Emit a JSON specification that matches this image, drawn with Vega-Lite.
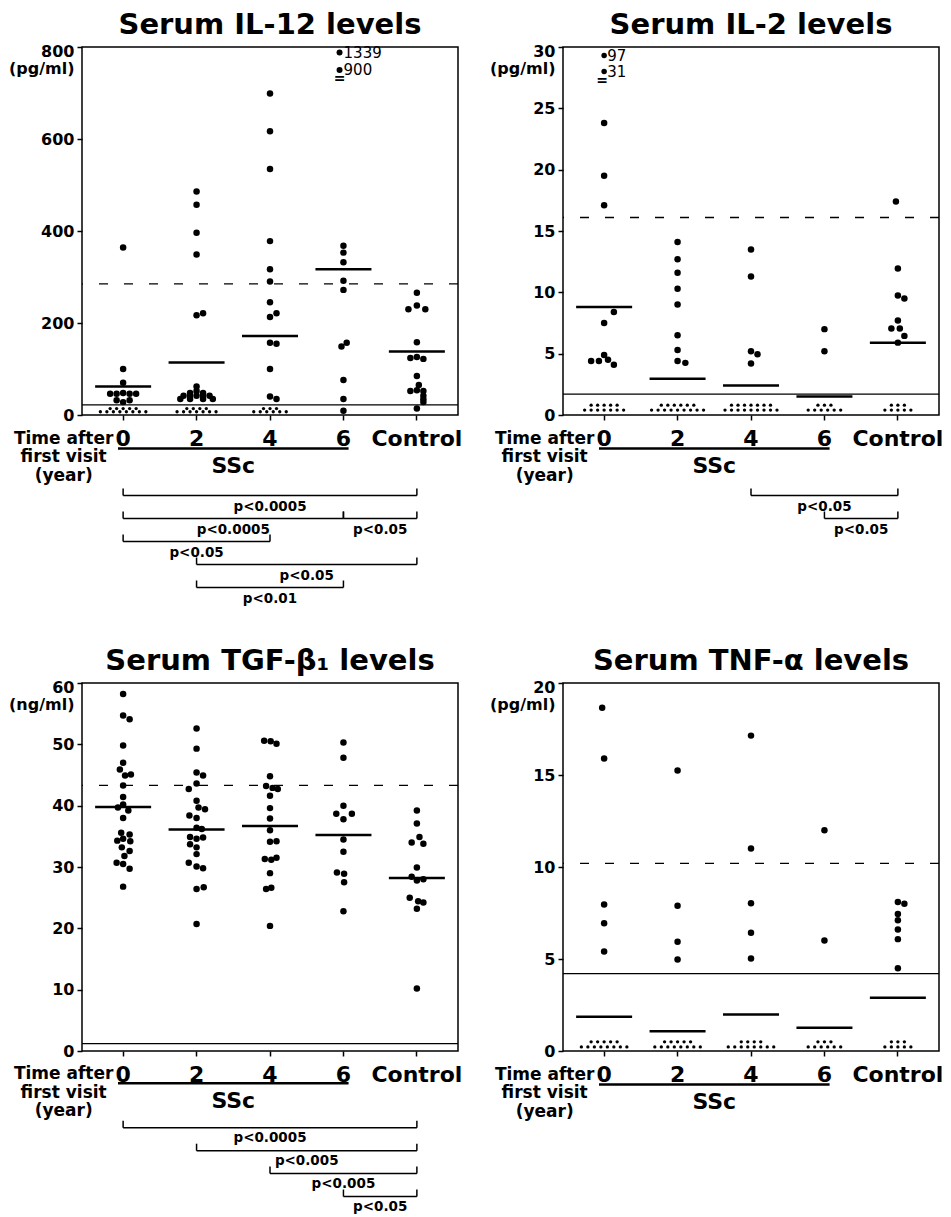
{
  "$schema": "https://vega.github.io/schema/vega-lite/v6.json",
  "background": "white",
  "padding": {"left": 7, "top": 10, "right": 5, "bottom": 2},
  "config": {
    "font": "DejaVu Sans",
    "view": {"stroke": "black", "strokeWidth": 1.5},
    "axis": {"labelFont": "DejaVu Sans", "labelFontWeight": "bold", "labelColor": "black", "tickColor": "black", "tickWidth": 1.5, "domainColor": "black", "grid": false},
    "axisX": {"labelAlign": "center"},
    "title": {"font": "DejaVu Sans", "fontWeight": "bold", "fontSize": 29, "color": "black", "anchor": "middle", "frame": "group", "offset": 3},
    "text": {"color": "black", "font": "DejaVu Sans"},
    "rule": {"color": "black"},
    "tick": {"color": "black", "opacity": 1},
    "circle": {"color": "black", "opacity": 1}
  },
  "datasets": {
    "il12": [
      {"group":"0","value":364,"col":0,"detected":"yes"},
      {"group":"0","value":100,"col":0,"detected":"yes"},
      {"group":"0","value":70,"col":0,"detected":"yes"},
      {"group":"0","value":46,"col":-2,"detected":"yes"},
      {"group":"0","value":46,"col":-1,"detected":"yes"},
      {"group":"0","value":48,"col":0,"detected":"yes"},
      {"group":"0","value":46,"col":1,"detected":"yes"},
      {"group":"0","value":46,"col":2,"detected":"yes"},
      {"group":"0","value":32,"col":-1,"detected":"yes"},
      {"group":"0","value":32,"col":1,"detected":"yes"},
      {"group":"0","value":28,"col":0,"detected":"yes"},
      {"group":"0","value":7,"col":-3.5,"detected":"no"},
      {"group":"0","value":7,"col":-2.5,"detected":"no"},
      {"group":"0","value":7,"col":-1.5,"detected":"no"},
      {"group":"0","value":7,"col":-0.5,"detected":"no"},
      {"group":"0","value":7,"col":0.5,"detected":"no"},
      {"group":"0","value":7,"col":1.5,"detected":"no"},
      {"group":"0","value":7,"col":2.5,"detected":"no"},
      {"group":"0","value":7,"col":3.5,"detected":"no"},
      {"group":"0","value":14,"col":-2,"detected":"no"},
      {"group":"0","value":14,"col":-1,"detected":"no"},
      {"group":"0","value":14,"col":0,"detected":"no"},
      {"group":"0","value":14,"col":1,"detected":"no"},
      {"group":"0","value":14,"col":2,"detected":"no"},
      {"group":"2","value":486,"col":0,"detected":"yes"},
      {"group":"2","value":457,"col":0,"detected":"yes"},
      {"group":"2","value":396,"col":0,"detected":"yes"},
      {"group":"2","value":349,"col":0,"detected":"yes"},
      {"group":"2","value":217,"col":0,"detected":"yes"},
      {"group":"2","value":221,"col":1,"detected":"yes"},
      {"group":"2","value":62,"col":0,"detected":"yes"},
      {"group":"2","value":52,"col":0,"detected":"yes"},
      {"group":"2","value":48,"col":-1,"detected":"yes"},
      {"group":"2","value":48,"col":1,"detected":"yes"},
      {"group":"2","value":42,"col":-2,"detected":"yes"},
      {"group":"2","value":42,"col":-1,"detected":"yes"},
      {"group":"2","value":42,"col":0,"detected":"yes"},
      {"group":"2","value":42,"col":1,"detected":"yes"},
      {"group":"2","value":42,"col":2,"detected":"yes"},
      {"group":"2","value":35,"col":-2.5,"detected":"yes"},
      {"group":"2","value":35,"col":-1,"detected":"yes"},
      {"group":"2","value":35,"col":1,"detected":"yes"},
      {"group":"2","value":35,"col":2.5,"detected":"yes"},
      {"group":"2","value":7,"col":-3,"detected":"no"},
      {"group":"2","value":7,"col":-2,"detected":"no"},
      {"group":"2","value":7,"col":-1,"detected":"no"},
      {"group":"2","value":7,"col":0,"detected":"no"},
      {"group":"2","value":7,"col":1,"detected":"no"},
      {"group":"2","value":7,"col":2,"detected":"no"},
      {"group":"2","value":7,"col":3,"detected":"no"},
      {"group":"2","value":14,"col":-1.5,"detected":"no"},
      {"group":"2","value":14,"col":-0.5,"detected":"no"},
      {"group":"2","value":14,"col":0.5,"detected":"no"},
      {"group":"2","value":14,"col":1.5,"detected":"no"},
      {"group":"4","value":699,"col":0,"detected":"yes"},
      {"group":"4","value":617,"col":0,"detected":"yes"},
      {"group":"4","value":535,"col":0,"detected":"yes"},
      {"group":"4","value":378,"col":0,"detected":"yes"},
      {"group":"4","value":317,"col":0,"detected":"yes"},
      {"group":"4","value":290,"col":0,"detected":"yes"},
      {"group":"4","value":245,"col":0,"detected":"yes"},
      {"group":"4","value":213,"col":0,"detected":"yes"},
      {"group":"4","value":221,"col":1,"detected":"yes"},
      {"group":"4","value":157,"col":0,"detected":"yes"},
      {"group":"4","value":155,"col":1,"detected":"yes"},
      {"group":"4","value":100,"col":0,"detected":"yes"},
      {"group":"4","value":40,"col":0,"detected":"yes"},
      {"group":"4","value":35,"col":1,"detected":"yes"},
      {"group":"4","value":7,"col":-2.5,"detected":"no"},
      {"group":"4","value":7,"col":-1.5,"detected":"no"},
      {"group":"4","value":7,"col":-0.5,"detected":"no"},
      {"group":"4","value":7,"col":0.5,"detected":"no"},
      {"group":"4","value":7,"col":1.5,"detected":"no"},
      {"group":"4","value":7,"col":2.5,"detected":"no"},
      {"group":"4","value":14,"col":-1,"detected":"no"},
      {"group":"4","value":14,"col":0,"detected":"no"},
      {"group":"4","value":14,"col":1,"detected":"no"},
      {"group":"6","value":368,"col":0,"detected":"yes"},
      {"group":"6","value":353,"col":0,"detected":"yes"},
      {"group":"6","value":332,"col":0,"detected":"yes"},
      {"group":"6","value":292,"col":0,"detected":"yes"},
      {"group":"6","value":272,"col":0,"detected":"yes"},
      {"group":"6","value":157,"col":0.5,"detected":"yes"},
      {"group":"6","value":149,"col":-0.3,"detected":"yes"},
      {"group":"6","value":76,"col":0,"detected":"yes"},
      {"group":"6","value":35,"col":0,"detected":"yes"},
      {"group":"6","value":9,"col":0,"detected":"yes"},
      {"group":"Control","value":266,"col":0,"detected":"yes"},
      {"group":"Control","value":238,"col":0,"detected":"yes"},
      {"group":"Control","value":230,"col":-1.3,"detected":"yes"},
      {"group":"Control","value":230,"col":1.3,"detected":"yes"},
      {"group":"Control","value":158,"col":0,"detected":"yes"},
      {"group":"Control","value":124,"col":-1,"detected":"yes"},
      {"group":"Control","value":126,"col":0,"detected":"yes"},
      {"group":"Control","value":122,"col":1,"detected":"yes"},
      {"group":"Control","value":85,"col":0,"detected":"yes"},
      {"group":"Control","value":65,"col":0.3,"detected":"yes"},
      {"group":"Control","value":52,"col":-1,"detected":"yes"},
      {"group":"Control","value":54,"col":0,"detected":"yes"},
      {"group":"Control","value":52,"col":1,"detected":"yes"},
      {"group":"Control","value":42,"col":1,"detected":"yes"},
      {"group":"Control","value":34,"col":1,"detected":"yes"},
      {"group":"Control","value":28,"col":1,"detected":"yes"},
      {"group":"Control","value":14,"col":0,"detected":"yes"}
    ],
    "il2": [
      {"group":"0","value":23.8,"col":0,"detected":"yes"},
      {"group":"0","value":19.5,"col":0,"detected":"yes"},
      {"group":"0","value":17.1,"col":0,"detected":"yes"},
      {"group":"0","value":8.4,"col":1.5,"detected":"yes"},
      {"group":"0","value":7.5,"col":0,"detected":"yes"},
      {"group":"0","value":4.9,"col":0,"detected":"yes"},
      {"group":"0","value":4.4,"col":-2,"detected":"yes"},
      {"group":"0","value":4.4,"col":-0.8,"detected":"yes"},
      {"group":"0","value":4.5,"col":0.6,"detected":"yes"},
      {"group":"0","value":4.1,"col":1.5,"detected":"yes"},
      {"group":"0","value":0.4,"col":-3,"detected":"no"},
      {"group":"0","value":0.4,"col":-2,"detected":"no"},
      {"group":"0","value":0.4,"col":-1,"detected":"no"},
      {"group":"0","value":0.4,"col":0,"detected":"no"},
      {"group":"0","value":0.4,"col":1,"detected":"no"},
      {"group":"0","value":0.4,"col":2,"detected":"no"},
      {"group":"0","value":0.4,"col":3,"detected":"no"},
      {"group":"0","value":0.8,"col":-2,"detected":"no"},
      {"group":"0","value":0.8,"col":-1,"detected":"no"},
      {"group":"0","value":0.8,"col":0,"detected":"no"},
      {"group":"0","value":0.8,"col":1,"detected":"no"},
      {"group":"0","value":0.8,"col":2,"detected":"no"},
      {"group":"2","value":14.1,"col":0,"detected":"yes"},
      {"group":"2","value":12.7,"col":0,"detected":"yes"},
      {"group":"2","value":11.6,"col":0,"detected":"yes"},
      {"group":"2","value":10.3,"col":0,"detected":"yes"},
      {"group":"2","value":9.0,"col":0,"detected":"yes"},
      {"group":"2","value":6.5,"col":0,"detected":"yes"},
      {"group":"2","value":5.3,"col":0,"detected":"yes"},
      {"group":"2","value":4.4,"col":0,"detected":"yes"},
      {"group":"2","value":4.25,"col":1.2,"detected":"yes"},
      {"group":"2","value":0.4,"col":-4,"detected":"no"},
      {"group":"2","value":0.4,"col":-3,"detected":"no"},
      {"group":"2","value":0.4,"col":-2,"detected":"no"},
      {"group":"2","value":0.4,"col":-1,"detected":"no"},
      {"group":"2","value":0.4,"col":0,"detected":"no"},
      {"group":"2","value":0.4,"col":1,"detected":"no"},
      {"group":"2","value":0.4,"col":2,"detected":"no"},
      {"group":"2","value":0.4,"col":3,"detected":"no"},
      {"group":"2","value":0.4,"col":4,"detected":"no"},
      {"group":"2","value":0.8,"col":-2.5,"detected":"no"},
      {"group":"2","value":0.8,"col":-1.5,"detected":"no"},
      {"group":"2","value":0.8,"col":-0.5,"detected":"no"},
      {"group":"2","value":0.8,"col":0.5,"detected":"no"},
      {"group":"2","value":0.8,"col":1.5,"detected":"no"},
      {"group":"2","value":0.8,"col":2.5,"detected":"no"},
      {"group":"4","value":13.5,"col":0,"detected":"yes"},
      {"group":"4","value":11.3,"col":0,"detected":"yes"},
      {"group":"4","value":5.2,"col":0,"detected":"yes"},
      {"group":"4","value":4.95,"col":1,"detected":"yes"},
      {"group":"4","value":4.2,"col":0,"detected":"yes"},
      {"group":"4","value":0.4,"col":-4,"detected":"no"},
      {"group":"4","value":0.4,"col":-3,"detected":"no"},
      {"group":"4","value":0.4,"col":-2,"detected":"no"},
      {"group":"4","value":0.4,"col":-1,"detected":"no"},
      {"group":"4","value":0.4,"col":0,"detected":"no"},
      {"group":"4","value":0.4,"col":1,"detected":"no"},
      {"group":"4","value":0.4,"col":2,"detected":"no"},
      {"group":"4","value":0.4,"col":3,"detected":"no"},
      {"group":"4","value":0.4,"col":4,"detected":"no"},
      {"group":"4","value":0.8,"col":-3,"detected":"no"},
      {"group":"4","value":0.8,"col":-2,"detected":"no"},
      {"group":"4","value":0.8,"col":-1,"detected":"no"},
      {"group":"4","value":0.8,"col":0,"detected":"no"},
      {"group":"4","value":0.8,"col":1,"detected":"no"},
      {"group":"4","value":0.8,"col":2,"detected":"no"},
      {"group":"4","value":0.8,"col":3,"detected":"no"},
      {"group":"6","value":7.0,"col":0,"detected":"yes"},
      {"group":"6","value":5.2,"col":0,"detected":"yes"},
      {"group":"6","value":0.4,"col":-2.5,"detected":"no"},
      {"group":"6","value":0.4,"col":-1.5,"detected":"no"},
      {"group":"6","value":0.4,"col":-0.5,"detected":"no"},
      {"group":"6","value":0.4,"col":0.5,"detected":"no"},
      {"group":"6","value":0.4,"col":1.5,"detected":"no"},
      {"group":"6","value":0.4,"col":2.5,"detected":"no"},
      {"group":"6","value":0.8,"col":-1,"detected":"no"},
      {"group":"6","value":0.8,"col":0,"detected":"no"},
      {"group":"6","value":0.8,"col":1,"detected":"no"},
      {"group":"Control","value":17.4,"col":-0.3,"detected":"yes"},
      {"group":"Control","value":11.95,"col":0,"detected":"yes"},
      {"group":"Control","value":9.75,"col":0,"detected":"yes"},
      {"group":"Control","value":9.5,"col":1,"detected":"yes"},
      {"group":"Control","value":7.7,"col":0,"detected":"yes"},
      {"group":"Control","value":7.05,"col":-1,"detected":"yes"},
      {"group":"Control","value":7.05,"col":0.3,"detected":"yes"},
      {"group":"Control","value":6.45,"col":1,"detected":"yes"},
      {"group":"Control","value":5.9,"col":0,"detected":"yes"},
      {"group":"Control","value":0.4,"col":-2,"detected":"no"},
      {"group":"Control","value":0.4,"col":-1,"detected":"no"},
      {"group":"Control","value":0.4,"col":0,"detected":"no"},
      {"group":"Control","value":0.4,"col":1,"detected":"no"},
      {"group":"Control","value":0.4,"col":2,"detected":"no"},
      {"group":"Control","value":0.8,"col":-1,"detected":"no"},
      {"group":"Control","value":0.8,"col":0,"detected":"no"},
      {"group":"Control","value":0.8,"col":1,"detected":"no"}
    ],
    "tgf": [
      {"group":"0","value":58.2,"col":0,"detected":"yes"},
      {"group":"0","value":54.7,"col":0,"detected":"yes"},
      {"group":"0","value":54.1,"col":1,"detected":"yes"},
      {"group":"0","value":49.8,"col":0,"detected":"yes"},
      {"group":"0","value":47.0,"col":0,"detected":"yes"},
      {"group":"0","value":45.9,"col":-0.5,"detected":"yes"},
      {"group":"0","value":44.9,"col":0.3,"detected":"yes"},
      {"group":"0","value":45.1,"col":1.2,"detected":"yes"},
      {"group":"0","value":43.3,"col":0,"detected":"yes"},
      {"group":"0","value":41.4,"col":0,"detected":"yes"},
      {"group":"0","value":40.2,"col":0,"detected":"yes"},
      {"group":"0","value":39.7,"col":-0.8,"detected":"yes"},
      {"group":"0","value":39.2,"col":0.8,"detected":"yes"},
      {"group":"0","value":38.0,"col":0,"detected":"yes"},
      {"group":"0","value":35.6,"col":-0.3,"detected":"yes"},
      {"group":"0","value":35.3,"col":1,"detected":"yes"},
      {"group":"0","value":34.6,"col":0,"detected":"yes"},
      {"group":"0","value":34.3,"col":-0.9,"detected":"yes"},
      {"group":"0","value":34.2,"col":1.1,"detected":"yes"},
      {"group":"0","value":33.2,"col":-0.2,"detected":"yes"},
      {"group":"0","value":32.6,"col":1,"detected":"yes"},
      {"group":"0","value":31.8,"col":0.2,"detected":"yes"},
      {"group":"0","value":30.7,"col":-1,"detected":"yes"},
      {"group":"0","value":30.5,"col":0,"detected":"yes"},
      {"group":"0","value":29.7,"col":1,"detected":"yes"},
      {"group":"0","value":26.8,"col":0,"detected":"yes"},
      {"group":"2","value":52.6,"col":0,"detected":"yes"},
      {"group":"2","value":49.3,"col":0,"detected":"yes"},
      {"group":"2","value":45.4,"col":0,"detected":"yes"},
      {"group":"2","value":44.9,"col":1,"detected":"yes"},
      {"group":"2","value":43.6,"col":0,"detected":"yes"},
      {"group":"2","value":42.7,"col":-1.2,"detected":"yes"},
      {"group":"2","value":40.8,"col":0,"detected":"yes"},
      {"group":"2","value":39.7,"col":0.3,"detected":"yes"},
      {"group":"2","value":39.4,"col":1.3,"detected":"yes"},
      {"group":"2","value":38.4,"col":-1.1,"detected":"yes"},
      {"group":"2","value":38.0,"col":0,"detected":"yes"},
      {"group":"2","value":36.4,"col":0,"detected":"yes"},
      {"group":"2","value":36.2,"col":0.8,"detected":"yes"},
      {"group":"2","value":34.9,"col":-1,"detected":"yes"},
      {"group":"2","value":34.6,"col":0,"detected":"yes"},
      {"group":"2","value":34.8,"col":1,"detected":"yes"},
      {"group":"2","value":33.7,"col":-1,"detected":"yes"},
      {"group":"2","value":33.2,"col":0,"detected":"yes"},
      {"group":"2","value":32.1,"col":0,"detected":"yes"},
      {"group":"2","value":30.7,"col":-1.2,"detected":"yes"},
      {"group":"2","value":30.1,"col":0,"detected":"yes"},
      {"group":"2","value":29.8,"col":1,"detected":"yes"},
      {"group":"2","value":26.4,"col":0,"detected":"yes"},
      {"group":"2","value":26.7,"col":1.1,"detected":"yes"},
      {"group":"2","value":20.7,"col":0,"detected":"yes"},
      {"group":"4","value":50.6,"col":-0.9,"detected":"yes"},
      {"group":"4","value":50.5,"col":0.1,"detected":"yes"},
      {"group":"4","value":50.1,"col":1,"detected":"yes"},
      {"group":"4","value":44.8,"col":0,"detected":"yes"},
      {"group":"4","value":43.2,"col":-0.6,"detected":"yes"},
      {"group":"4","value":42.9,"col":0.4,"detected":"yes"},
      {"group":"4","value":42.7,"col":1.2,"detected":"yes"},
      {"group":"4","value":41.6,"col":0,"detected":"yes"},
      {"group":"4","value":39.6,"col":0,"detected":"yes"},
      {"group":"4","value":37.9,"col":0,"detected":"yes"},
      {"group":"4","value":36.0,"col":0,"detected":"yes"},
      {"group":"4","value":34.1,"col":0,"detected":"yes"},
      {"group":"4","value":34.2,"col":1,"detected":"yes"},
      {"group":"4","value":31.3,"col":-0.8,"detected":"yes"},
      {"group":"4","value":31.2,"col":0.2,"detected":"yes"},
      {"group":"4","value":31.5,"col":1,"detected":"yes"},
      {"group":"4","value":29.0,"col":0,"detected":"yes"},
      {"group":"4","value":26.4,"col":-0.6,"detected":"yes"},
      {"group":"4","value":26.6,"col":0.2,"detected":"yes"},
      {"group":"4","value":20.4,"col":0,"detected":"yes"},
      {"group":"6","value":50.3,"col":0,"detected":"yes"},
      {"group":"6","value":47.8,"col":0,"detected":"yes"},
      {"group":"6","value":40.0,"col":0,"detected":"yes"},
      {"group":"6","value":38.7,"col":-1.1,"detected":"yes"},
      {"group":"6","value":38.7,"col":1.3,"detected":"yes"},
      {"group":"6","value":37.8,"col":0,"detected":"yes"},
      {"group":"6","value":34.5,"col":0,"detected":"yes"},
      {"group":"6","value":32.5,"col":0,"detected":"yes"},
      {"group":"6","value":29.1,"col":-1,"detected":"yes"},
      {"group":"6","value":28.9,"col":0.1,"detected":"yes"},
      {"group":"6","value":27.5,"col":0.1,"detected":"yes"},
      {"group":"6","value":22.8,"col":0,"detected":"yes"},
      {"group":"Control","value":39.2,"col":0,"detected":"yes"},
      {"group":"Control","value":37.1,"col":0,"detected":"yes"},
      {"group":"Control","value":34.9,"col":0.4,"detected":"yes"},
      {"group":"Control","value":34.0,"col":-0.8,"detected":"yes"},
      {"group":"Control","value":33.8,"col":1,"detected":"yes"},
      {"group":"Control","value":29.9,"col":0,"detected":"yes"},
      {"group":"Control","value":28.4,"col":-0.8,"detected":"yes"},
      {"group":"Control","value":27.8,"col":0,"detected":"yes"},
      {"group":"Control","value":28.0,"col":1,"detected":"yes"},
      {"group":"Control","value":25.0,"col":-1.1,"detected":"yes"},
      {"group":"Control","value":24.4,"col":0.2,"detected":"yes"},
      {"group":"Control","value":24.2,"col":1,"detected":"yes"},
      {"group":"Control","value":23.2,"col":0,"detected":"yes"},
      {"group":"Control","value":10.2,"col":0,"detected":"yes"}
    ],
    "tnf": [
      {"group":"0","value":18.65,"col":-0.3,"detected":"yes"},
      {"group":"0","value":15.9,"col":0,"detected":"yes"},
      {"group":"0","value":7.96,"col":0,"detected":"yes"},
      {"group":"0","value":6.94,"col":0,"detected":"yes"},
      {"group":"0","value":5.41,"col":0,"detected":"yes"},
      {"group":"0","value":0.22,"col":-3.5,"detected":"no"},
      {"group":"0","value":0.22,"col":-2.5,"detected":"no"},
      {"group":"0","value":0.22,"col":-1.5,"detected":"no"},
      {"group":"0","value":0.22,"col":-0.5,"detected":"no"},
      {"group":"0","value":0.22,"col":0.5,"detected":"no"},
      {"group":"0","value":0.22,"col":1.5,"detected":"no"},
      {"group":"0","value":0.22,"col":2.5,"detected":"no"},
      {"group":"0","value":0.22,"col":3.5,"detected":"no"},
      {"group":"0","value":0.5,"col":-2,"detected":"no"},
      {"group":"0","value":0.5,"col":-1,"detected":"no"},
      {"group":"0","value":0.5,"col":0,"detected":"no"},
      {"group":"0","value":0.5,"col":1,"detected":"no"},
      {"group":"0","value":0.5,"col":2,"detected":"no"},
      {"group":"2","value":15.25,"col":0,"detected":"yes"},
      {"group":"2","value":7.9,"col":0,"detected":"yes"},
      {"group":"2","value":5.94,"col":0,"detected":"yes"},
      {"group":"2","value":4.97,"col":0,"detected":"yes"},
      {"group":"2","value":0.22,"col":-3.5,"detected":"no"},
      {"group":"2","value":0.22,"col":-2.5,"detected":"no"},
      {"group":"2","value":0.22,"col":-1.5,"detected":"no"},
      {"group":"2","value":0.22,"col":-0.5,"detected":"no"},
      {"group":"2","value":0.22,"col":0.5,"detected":"no"},
      {"group":"2","value":0.22,"col":1.5,"detected":"no"},
      {"group":"2","value":0.22,"col":2.5,"detected":"no"},
      {"group":"2","value":0.22,"col":3.5,"detected":"no"},
      {"group":"2","value":0.5,"col":-2,"detected":"no"},
      {"group":"2","value":0.5,"col":-1,"detected":"no"},
      {"group":"2","value":0.5,"col":0,"detected":"no"},
      {"group":"2","value":0.5,"col":1,"detected":"no"},
      {"group":"2","value":0.5,"col":2,"detected":"no"},
      {"group":"4","value":17.14,"col":0,"detected":"yes"},
      {"group":"4","value":11.0,"col":0,"detected":"yes"},
      {"group":"4","value":8.03,"col":0,"detected":"yes"},
      {"group":"4","value":6.43,"col":0,"detected":"yes"},
      {"group":"4","value":5.03,"col":0,"detected":"yes"},
      {"group":"4","value":0.22,"col":-3.5,"detected":"no"},
      {"group":"4","value":0.22,"col":-2.5,"detected":"no"},
      {"group":"4","value":0.22,"col":-1.5,"detected":"no"},
      {"group":"4","value":0.22,"col":-0.5,"detected":"no"},
      {"group":"4","value":0.22,"col":0.5,"detected":"no"},
      {"group":"4","value":0.22,"col":1.5,"detected":"no"},
      {"group":"4","value":0.22,"col":2.5,"detected":"no"},
      {"group":"4","value":0.22,"col":3.5,"detected":"no"},
      {"group":"4","value":0.5,"col":-1.5,"detected":"no"},
      {"group":"4","value":0.5,"col":-0.5,"detected":"no"},
      {"group":"4","value":0.5,"col":0.5,"detected":"no"},
      {"group":"4","value":0.5,"col":1.5,"detected":"no"},
      {"group":"6","value":12.0,"col":0,"detected":"yes"},
      {"group":"6","value":6.0,"col":0,"detected":"yes"},
      {"group":"6","value":0.22,"col":-2.5,"detected":"no"},
      {"group":"6","value":0.22,"col":-1.5,"detected":"no"},
      {"group":"6","value":0.22,"col":-0.5,"detected":"no"},
      {"group":"6","value":0.22,"col":0.5,"detected":"no"},
      {"group":"6","value":0.22,"col":1.5,"detected":"no"},
      {"group":"6","value":0.22,"col":2.5,"detected":"no"},
      {"group":"6","value":0.5,"col":-1,"detected":"no"},
      {"group":"6","value":0.5,"col":0,"detected":"no"},
      {"group":"6","value":0.5,"col":1,"detected":"no"},
      {"group":"Control","value":8.1,"col":0,"detected":"yes"},
      {"group":"Control","value":8.0,"col":1,"detected":"yes"},
      {"group":"Control","value":7.45,"col":0,"detected":"yes"},
      {"group":"Control","value":7.1,"col":0,"detected":"yes"},
      {"group":"Control","value":6.6,"col":0,"detected":"yes"},
      {"group":"Control","value":6.08,"col":0,"detected":"yes"},
      {"group":"Control","value":4.5,"col":0,"detected":"yes"},
      {"group":"Control","value":0.22,"col":-2,"detected":"no"},
      {"group":"Control","value":0.22,"col":-1,"detected":"no"},
      {"group":"Control","value":0.22,"col":0,"detected":"no"},
      {"group":"Control","value":0.22,"col":1,"detected":"no"},
      {"group":"Control","value":0.22,"col":2,"detected":"no"},
      {"group":"Control","value":0.5,"col":-1,"detected":"no"},
      {"group":"Control","value":0.5,"col":0,"detected":"no"},
      {"group":"Control","value":0.5,"col":1,"detected":"no"}
    ],
    "medians": [
      {"panel":"IL-12","group":"0","value":62},
      {"panel":"IL-12","group":"2","value":114},
      {"panel":"IL-12","group":"4","value":172},
      {"panel":"IL-12","group":"6","value":317},
      {"panel":"IL-12","group":"Control","value":138},
      {"panel":"IL-2","group":"0","value":8.8},
      {"panel":"IL-2","group":"2","value":2.95},
      {"panel":"IL-2","group":"4","value":2.4},
      {"panel":"IL-2","group":"6","value":1.5},
      {"panel":"IL-2","group":"Control","value":5.9},
      {"panel":"TGF","group":"0","value":39.8},
      {"panel":"TGF","group":"2","value":36.1},
      {"panel":"TGF","group":"4","value":36.7},
      {"panel":"TGF","group":"6","value":35.2},
      {"panel":"TGF","group":"Control","value":28.2},
      {"panel":"TNF","group":"0","value":1.86},
      {"panel":"TNF","group":"2","value":1.08},
      {"panel":"TNF","group":"4","value":1.98},
      {"panel":"TNF","group":"6","value":1.26},
      {"panel":"TNF","group":"Control","value":2.9}
    ],
    "limits": [
      {"panel":"IL-12","kind":"upper","value":285},
      {"panel":"IL-12","kind":"detection","value":22},
      {"panel":"IL-2","kind":"upper","value":16.1},
      {"panel":"IL-2","kind":"detection","value":1.7},
      {"panel":"TGF","kind":"upper","value":43.3},
      {"panel":"TGF","kind":"detection","value":1.2},
      {"panel":"TNF","kind":"upper","value":10.2},
      {"panel":"TNF","kind":"detection","value":4.2}
    ],
    "offscale": [
      {"panel":"IL-12","group":"6","value":1339,"shown":788,"col":-0.6},
      {"panel":"IL-12","group":"6","value":900,"shown":750,"col":-0.6},
      {"panel":"IL-2","group":"0","value":97,"shown":29.3,"col":0},
      {"panel":"IL-2","group":"0","value":31,"shown":28.0,"col":0}
    ],
    "breaks": [
      {"panel":"IL-12","group":"6","at":731,"col":-0.6},
      {"panel":"IL-2","group":"0","at":27.2,"col":-0.3}
    ],
    "brackets": [
      {"panel":"IL-12","from":"0","to":"Control","level":1,"p":"p<0.0005"},
      {"panel":"IL-12","from":"0","to":"6","level":2,"p":"p<0.0005"},
      {"panel":"IL-12","from":"6","to":"Control","level":2,"p":"p<0.05"},
      {"panel":"IL-12","from":"0","to":"4","level":3,"p":"p<0.05"},
      {"panel":"IL-12","from":"2","to":"Control","level":4,"p":"p<0.05"},
      {"panel":"IL-12","from":"2","to":"6","level":5,"p":"p<0.01"},
      {"panel":"IL-2","from":"4","to":"Control","level":1,"p":"p<0.05"},
      {"panel":"IL-2","from":"6","to":"Control","level":2,"p":"p<0.05"},
      {"panel":"TGF","from":"0","to":"Control","level":1,"p":"p<0.0005"},
      {"panel":"TGF","from":"2","to":"Control","level":2,"p":"p<0.005"},
      {"panel":"TGF","from":"4","to":"Control","level":3,"p":"p<0.005"},
      {"panel":"TGF","from":"6","to":"Control","level":4,"p":"p<0.05"}
    ]
  },
  "spacing": 41,
  "vconcat": [
    {
      "spacing": 25,
      "hconcat": [
        {
          "bounds": "flush",
          "spacing": 0,
          "vconcat": [
            {
              "title": {"text": "Serum IL-12 levels"},
              "width": 376,
              "height": 368,
              "layer": [
                {
                  "data": {"name": "limits"},
                  "transform": [{"filter": "datum.panel == 'IL-12'"}],
                  "mark": {"type": "rule", "strokeWidth": 1.3},
                  "encoding": {
                    "y": {"field": "value", "type": "quantitative", "scale": {"domain": [0, 800]}, "title": null},
                    "strokeDash": {"field": "kind", "type": "nominal", "scale": {"domain": ["upper", "detection"], "range": [[9, 16], [1, 0]]}, "legend": null}
                  }
                },
                {
                  "data": {"name": "medians"},
                  "transform": [{"filter": "datum.panel == 'IL-12'"}],
                  "mark": {"type": "tick", "size": 56, "thickness": 2.5, "opacity": 1},
                  "encoding": {
                    "x": {"field": "group", "type": "nominal", "scale": {"domain": ["0","2","4","6","Control"], "paddingInner": 0, "paddingOuter": 0.06}, "title": null},
                    "y": {"field": "value", "type": "quantitative", "scale": {"domain": [0, 800]}, "title": null}
                  }
                },
                {
                  "data": {"name": "il12"},
                  "mark": {"type": "circle", "opacity": 1},
                  "encoding": {
                    "x": {"field": "group", "type": "nominal", "scale": {"domain": ["0","2","4","6","Control"], "paddingInner": 0, "paddingOuter": 0.06}, "axis": {"title": null, "labelAngle": 0, "labelAlign": "center", "labelFontSize": 22, "labelPadding": 18, "labelFlush": false, "labelOverlap": false, "tickSize": 5, "domain": false}},
                    "xOffset": {"field": "col", "type": "quantitative", "scale": {"domain": [0, 1], "range": [36.72, 43.22]}},
                    "y": {"field": "value", "type": "quantitative", "scale": {"domain": [0, 800]}, "axis": {"title": null, "values": [0, 200, 400, 600, 800], "labelExpr": "datum.value == 800 ? ['800', '(pg/ml)'] : datum.label", "labelBaseline": {"condition": {"test": "datum.value == 800", "value": "top"}, "value": "middle"}, "labelOffset": {"condition": {"test": "datum.value == 800", "value": -4}, "value": 0}, "labelLineHeight": 17, "labelFontSize": 16, "labelPadding": 3, "tickSize": 5, "domain": false, "labelFlush": false, "labelOverlap": false}},
                    "size": {"field": "detected", "type": "nominal", "scale": {"domain": ["yes", "no"], "range": [42, 11]}, "legend": null}
                  }
                },
                {
                  "data": {"name": "offscale"},
                  "transform": [{"filter": "datum.panel == 'IL-12'"}],
                  "layer": [
                    {
                      "mark": {"type": "circle", "size": 36, "opacity": 1},
                      "encoding": {
                        "x": {"field": "group", "type": "nominal", "scale": {"domain": ["0","2","4","6","Control"], "paddingInner": 0, "paddingOuter": 0.06}, "title": null},
                        "xOffset": {"field": "col", "type": "quantitative", "scale": {"domain": [0, 1], "range": [36.72, 43.22]}},
                        "y": {"field": "shown", "type": "quantitative", "scale": {"domain": [0, 800]}, "title": null}
                      }
                    },
                    {
                      "mark": {"type": "text", "align": "left", "baseline": "middle", "dx": 4, "fontSize": 15},
                      "encoding": {
                        "x": {"field": "group", "type": "nominal", "scale": {"domain": ["0","2","4","6","Control"], "paddingInner": 0, "paddingOuter": 0.06}, "title": null},
                        "xOffset": {"field": "col", "type": "quantitative", "scale": {"domain": [0, 1], "range": [36.72, 43.22]}},
                        "y": {"field": "shown", "type": "quantitative", "scale": {"domain": [0, 800]}, "title": null},
                        "text": {"field": "value", "type": "nominal"}
                      }
                    }
                  ]
                },
                {
                  "data": {"name": "breaks"},
                  "transform": [{"filter": "datum.panel == 'IL-12'"}],
                  "mark": {"type": "text", "text": "=", "fontSize": 14, "fontWeight": "bold", "baseline": "middle"},
                  "encoding": {
                    "x": {"field": "group", "type": "nominal", "scale": {"domain": ["0","2","4","6","Control"], "paddingInner": 0, "paddingOuter": 0.06}, "title": null},
                    "xOffset": {"field": "col", "type": "quantitative", "scale": {"domain": [0, 1], "range": [36.72, 43.22]}},
                    "y": {"field": "at", "type": "quantitative", "scale": {"domain": [0, 800]}, "title": null}
                  }
                }
              ]
            },
            {
              "width": 376,
              "height": 184,
              "view": {"stroke": null},
              "layer": [
                {
                  "data": {"values": [{}]},
                  "mark": {"type": "rule", "strokeWidth": 2.5},
                  "encoding": {
                    "x": {"datum": -0.07, "type": "quantitative", "scale": {"domain": [-0.56, 4.56]}, "axis": null},
                    "x2": {"datum": 3.07},
                    "y": {"datum": -1.04, "type": "quantitative", "scale": {"domain": [-2.5, 5.5], "reverse": true}, "axis": null}
                  }
                },
                {
                  "data": {"values": [{}]},
                  "mark": {"type": "text", "text": "SSc", "fontSize": 22, "fontWeight": "bold", "baseline": "middle"},
                  "encoding": {
                    "x": {"datum": 1.5, "type": "quantitative", "scale": {"domain": [-0.56, 4.56]}, "axis": null},
                    "y": {"datum": -0.27, "type": "quantitative", "scale": {"domain": [-2.5, 5.5], "reverse": true}, "axis": null}
                  }
                },
                {
                  "data": {"values": [{}]},
                  "mark": {"type": "text", "text": ["Time after", "first visit", "(year)"], "fontSize": 17, "fontWeight": "bold", "baseline": "top", "lineHeight": 18.5},
                  "encoding": {
                    "x": {"datum": -0.81, "type": "quantitative", "scale": {"domain": [-0.56, 4.56]}, "axis": null},
                    "y": {"datum": -1.81, "type": "quantitative", "scale": {"domain": [-2.5, 5.5], "reverse": true}, "axis": null}
                  }
                },
                {
                  "data": {"name": "brackets"},
                  "transform": [
                    {"filter": "datum.panel == 'IL-12'"},
                    {"calculate": "indexof(['0','2','4','6','Control'], datum.from)", "as": "start"},
                    {"calculate": "indexof(['0','2','4','6','Control'], datum.to)", "as": "end"},
                    {"calculate": "(datum.start + datum.end) / 2", "as": "mid"}
                  ],
                  "layer": [
                    {
                      "mark": {"type": "rule", "strokeWidth": 1.5},
                      "encoding": {
                        "x": {"field": "start", "type": "quantitative", "scale": {"domain": [-0.56, 4.56]}, "axis": null},
                        "x2": {"field": "end"},
                        "y": {"field": "level", "type": "quantitative", "scale": {"domain": [-2.5, 5.5], "reverse": true}, "axis": null}
                      }
                    },
                    {
                      "transform": [{"fold": ["start", "end"], "as": ["side", "pos"]}],
                      "mark": {"type": "rule", "strokeWidth": 1.5, "y2Offset": -7},
                      "encoding": {
                        "x": {"field": "pos", "type": "quantitative", "scale": {"domain": [-0.56, 4.56]}, "axis": null},
                        "y": {"field": "level", "type": "quantitative", "scale": {"domain": [-2.5, 5.5], "reverse": true}, "axis": null},
                        "y2": {"field": "level"}
                      }
                    },
                    {
                      "mark": {"type": "text", "fontSize": 13.5, "fontWeight": "bold", "baseline": "middle", "dy": 11},
                      "encoding": {
                        "x": {"field": "mid", "type": "quantitative", "scale": {"domain": [-0.56, 4.56]}, "axis": null},
                        "y": {"field": "level", "type": "quantitative", "scale": {"domain": [-2.5, 5.5], "reverse": true}, "axis": null},
                        "text": {"field": "p", "type": "nominal"}
                      }
                    }
                  ]
                }
              ]
            }
          ]
        },
        {
          "bounds": "flush",
          "spacing": 0,
          "vconcat": [
            {
              "title": {"text": "Serum IL-2 levels"},
              "width": 376,
              "height": 368,
              "layer": [
                {
                  "data": {"name": "limits"},
                  "transform": [{"filter": "datum.panel == 'IL-2'"}],
                  "mark": {"type": "rule", "strokeWidth": 1.3},
                  "encoding": {
                    "y": {"field": "value", "type": "quantitative", "scale": {"domain": [0, 30]}, "title": null},
                    "strokeDash": {"field": "kind", "type": "nominal", "scale": {"domain": ["upper", "detection"], "range": [[9, 16], [1, 0]]}, "legend": null}
                  }
                },
                {
                  "data": {"name": "medians"},
                  "transform": [{"filter": "datum.panel == 'IL-2'"}],
                  "mark": {"type": "tick", "size": 56, "thickness": 2.5, "opacity": 1},
                  "encoding": {
                    "x": {"field": "group", "type": "nominal", "scale": {"domain": ["0","2","4","6","Control"], "paddingInner": 0, "paddingOuter": 0.06}, "title": null},
                    "y": {"field": "value", "type": "quantitative", "scale": {"domain": [0, 30]}, "title": null}
                  }
                },
                {
                  "data": {"name": "il2"},
                  "mark": {"type": "circle", "opacity": 1},
                  "encoding": {
                    "x": {"field": "group", "type": "nominal", "scale": {"domain": ["0","2","4","6","Control"], "paddingInner": 0, "paddingOuter": 0.06}, "axis": {"title": null, "labelAngle": 0, "labelAlign": "center", "labelFontSize": 22, "labelPadding": 18, "labelFlush": false, "labelOverlap": false, "tickSize": 5, "domain": false}},
                    "xOffset": {"field": "col", "type": "quantitative", "scale": {"domain": [0, 1], "range": [36.72, 43.22]}},
                    "y": {"field": "value", "type": "quantitative", "scale": {"domain": [0, 30]}, "axis": {"title": null, "values": [0, 5, 10, 15, 20, 25, 30], "labelExpr": "datum.value == 30 ? ['30', '(pg/ml)'] : datum.label", "labelBaseline": {"condition": {"test": "datum.value == 30", "value": "top"}, "value": "middle"}, "labelOffset": {"condition": {"test": "datum.value == 30", "value": -4}, "value": 0}, "labelLineHeight": 17, "labelFontSize": 16, "labelPadding": 3, "tickSize": 5, "domain": false, "labelFlush": false, "labelOverlap": false}},
                    "size": {"field": "detected", "type": "nominal", "scale": {"domain": ["yes", "no"], "range": [42, 11]}, "legend": null}
                  }
                },
                {
                  "data": {"name": "offscale"},
                  "transform": [{"filter": "datum.panel == 'IL-2'"}],
                  "layer": [
                    {
                      "mark": {"type": "circle", "size": 30, "opacity": 1},
                      "encoding": {
                        "x": {"field": "group", "type": "nominal", "scale": {"domain": ["0","2","4","6","Control"], "paddingInner": 0, "paddingOuter": 0.06}, "title": null},
                        "xOffset": {"field": "col", "type": "quantitative", "scale": {"domain": [0, 1], "range": [36.72, 43.22]}},
                        "y": {"field": "shown", "type": "quantitative", "scale": {"domain": [0, 30]}, "title": null}
                      }
                    },
                    {
                      "mark": {"type": "text", "align": "left", "baseline": "middle", "dx": 3, "fontSize": 15},
                      "encoding": {
                        "x": {"field": "group", "type": "nominal", "scale": {"domain": ["0","2","4","6","Control"], "paddingInner": 0, "paddingOuter": 0.06}, "title": null},
                        "xOffset": {"field": "col", "type": "quantitative", "scale": {"domain": [0, 1], "range": [36.72, 43.22]}},
                        "y": {"field": "shown", "type": "quantitative", "scale": {"domain": [0, 30]}, "title": null},
                        "text": {"field": "value", "type": "nominal"}
                      }
                    }
                  ]
                },
                {
                  "data": {"name": "breaks"},
                  "transform": [{"filter": "datum.panel == 'IL-2'"}],
                  "mark": {"type": "text", "text": "=", "fontSize": 14, "fontWeight": "bold", "baseline": "middle"},
                  "encoding": {
                    "x": {"field": "group", "type": "nominal", "scale": {"domain": ["0","2","4","6","Control"], "paddingInner": 0, "paddingOuter": 0.06}, "title": null},
                    "xOffset": {"field": "col", "type": "quantitative", "scale": {"domain": [0, 1], "range": [36.72, 43.22]}},
                    "y": {"field": "at", "type": "quantitative", "scale": {"domain": [0, 30]}, "title": null}
                  }
                }
              ]
            },
            {
              "width": 376,
              "height": 115,
              "view": {"stroke": null},
              "layer": [
                {
                  "data": {"values": [{}]},
                  "mark": {"type": "rule", "strokeWidth": 2.5},
                  "encoding": {
                    "x": {"datum": -0.07, "type": "quantitative", "scale": {"domain": [-0.56, 4.56]}, "axis": null},
                    "x2": {"datum": 3.07},
                    "y": {"datum": -1.04, "type": "quantitative", "scale": {"domain": [-2.5, 2.5], "reverse": true}, "axis": null}
                  }
                },
                {
                  "data": {"values": [{}]},
                  "mark": {"type": "text", "text": "SSc", "fontSize": 22, "fontWeight": "bold", "baseline": "middle"},
                  "encoding": {
                    "x": {"datum": 1.5, "type": "quantitative", "scale": {"domain": [-0.56, 4.56]}, "axis": null},
                    "y": {"datum": -0.27, "type": "quantitative", "scale": {"domain": [-2.5, 2.5], "reverse": true}, "axis": null}
                  }
                },
                {
                  "data": {"values": [{}]},
                  "mark": {"type": "text", "text": ["Time after", "first visit", "(year)"], "fontSize": 17, "fontWeight": "bold", "baseline": "top", "lineHeight": 18.5},
                  "encoding": {
                    "x": {"datum": -0.81, "type": "quantitative", "scale": {"domain": [-0.56, 4.56]}, "axis": null},
                    "y": {"datum": -1.81, "type": "quantitative", "scale": {"domain": [-2.5, 2.5], "reverse": true}, "axis": null}
                  }
                },
                {
                  "data": {"name": "brackets"},
                  "transform": [
                    {"filter": "datum.panel == 'IL-2'"},
                    {"calculate": "indexof(['0','2','4','6','Control'], datum.from)", "as": "start"},
                    {"calculate": "indexof(['0','2','4','6','Control'], datum.to)", "as": "end"},
                    {"calculate": "(datum.start + datum.end) / 2", "as": "mid"}
                  ],
                  "layer": [
                    {
                      "mark": {"type": "rule", "strokeWidth": 1.5},
                      "encoding": {
                        "x": {"field": "start", "type": "quantitative", "scale": {"domain": [-0.56, 4.56]}, "axis": null},
                        "x2": {"field": "end"},
                        "y": {"field": "level", "type": "quantitative", "scale": {"domain": [-2.5, 2.5], "reverse": true}, "axis": null}
                      }
                    },
                    {
                      "transform": [{"fold": ["start", "end"], "as": ["side", "pos"]}],
                      "mark": {"type": "rule", "strokeWidth": 1.5, "y2Offset": -7},
                      "encoding": {
                        "x": {"field": "pos", "type": "quantitative", "scale": {"domain": [-0.56, 4.56]}, "axis": null},
                        "y": {"field": "level", "type": "quantitative", "scale": {"domain": [-2.5, 2.5], "reverse": true}, "axis": null},
                        "y2": {"field": "level"}
                      }
                    },
                    {
                      "mark": {"type": "text", "fontSize": 13.5, "fontWeight": "bold", "baseline": "middle", "dy": 11},
                      "encoding": {
                        "x": {"field": "mid", "type": "quantitative", "scale": {"domain": [-0.56, 4.56]}, "axis": null},
                        "y": {"field": "level", "type": "quantitative", "scale": {"domain": [-2.5, 2.5], "reverse": true}, "axis": null},
                        "text": {"field": "p", "type": "nominal"}
                      }
                    }
                  ]
                }
              ]
            }
          ]
        }
      ]
    },
    {
      "spacing": 25,
      "hconcat": [
        {
          "bounds": "flush",
          "spacing": 0,
          "vconcat": [
            {
              "title": {"text": "Serum TGF-β₁ levels"},
              "width": 376,
              "height": 368,
              "layer": [
                {
                  "data": {"name": "limits"},
                  "transform": [{"filter": "datum.panel == 'TGF'"}],
                  "mark": {"type": "rule", "strokeWidth": 1.3},
                  "encoding": {
                    "y": {"field": "value", "type": "quantitative", "scale": {"domain": [0, 60]}, "title": null},
                    "strokeDash": {"field": "kind", "type": "nominal", "scale": {"domain": ["upper", "detection"], "range": [[9, 16], [1, 0]]}, "legend": null}
                  }
                },
                {
                  "data": {"name": "medians"},
                  "transform": [{"filter": "datum.panel == 'TGF'"}],
                  "mark": {"type": "tick", "size": 56, "thickness": 2.5, "opacity": 1},
                  "encoding": {
                    "x": {"field": "group", "type": "nominal", "scale": {"domain": ["0","2","4","6","Control"], "paddingInner": 0, "paddingOuter": 0.06}, "title": null},
                    "y": {"field": "value", "type": "quantitative", "scale": {"domain": [0, 60]}, "title": null}
                  }
                },
                {
                  "data": {"name": "tgf"},
                  "mark": {"type": "circle", "opacity": 1},
                  "encoding": {
                    "x": {"field": "group", "type": "nominal", "scale": {"domain": ["0","2","4","6","Control"], "paddingInner": 0, "paddingOuter": 0.06}, "axis": {"title": null, "labelAngle": 0, "labelAlign": "center", "labelFontSize": 22, "labelPadding": 18, "labelFlush": false, "labelOverlap": false, "tickSize": 5, "domain": false}},
                    "xOffset": {"field": "col", "type": "quantitative", "scale": {"domain": [0, 1], "range": [36.72, 43.22]}},
                    "y": {"field": "value", "type": "quantitative", "scale": {"domain": [0, 60]}, "axis": {"title": null, "values": [0, 10, 20, 30, 40, 50, 60], "labelExpr": "datum.value == 60 ? ['60', '(ng/ml)'] : datum.label", "labelBaseline": {"condition": {"test": "datum.value == 60", "value": "top"}, "value": "middle"}, "labelOffset": {"condition": {"test": "datum.value == 60", "value": -4}, "value": 0}, "labelLineHeight": 17, "labelFontSize": 16, "labelPadding": 3, "tickSize": 5, "domain": false, "labelFlush": false, "labelOverlap": false}},
                    "size": {"field": "detected", "type": "nominal", "scale": {"domain": ["yes", "no"], "range": [42, 11]}, "legend": null}
                  }
                }
              ]
            },
            {
              "width": 376,
              "height": 157,
              "view": {"stroke": null},
              "layer": [
                {
                  "data": {"values": [{}]},
                  "mark": {"type": "rule", "strokeWidth": 2.5},
                  "encoding": {
                    "x": {"datum": -0.07, "type": "quantitative", "scale": {"domain": [-0.56, 4.56]}, "axis": null},
                    "x2": {"datum": 3.07},
                    "y": {"datum": -0.94, "type": "quantitative", "scale": {"domain": [-2.35, 4.5], "reverse": true}, "axis": null}
                  }
                },
                {
                  "data": {"values": [{}]},
                  "mark": {"type": "text", "text": "SSc", "fontSize": 22, "fontWeight": "bold", "baseline": "middle"},
                  "encoding": {
                    "x": {"datum": 1.5, "type": "quantitative", "scale": {"domain": [-0.56, 4.56]}, "axis": null},
                    "y": {"datum": -0.17, "type": "quantitative", "scale": {"domain": [-2.35, 4.5], "reverse": true}, "axis": null}
                  }
                },
                {
                  "data": {"values": [{}]},
                  "mark": {"type": "text", "text": ["Time after", "first visit", "(year)"], "fontSize": 17, "fontWeight": "bold", "baseline": "top", "lineHeight": 18.5},
                  "encoding": {
                    "x": {"datum": -0.81, "type": "quantitative", "scale": {"domain": [-0.56, 4.56]}, "axis": null},
                    "y": {"datum": -1.68, "type": "quantitative", "scale": {"domain": [-2.35, 4.5], "reverse": true}, "axis": null}
                  }
                },
                {
                  "data": {"name": "brackets"},
                  "transform": [
                    {"filter": "datum.panel == 'TGF'"},
                    {"calculate": "indexof(['0','2','4','6','Control'], datum.from)", "as": "start"},
                    {"calculate": "indexof(['0','2','4','6','Control'], datum.to)", "as": "end"},
                    {"calculate": "(datum.start + datum.end) / 2", "as": "mid"}
                  ],
                  "layer": [
                    {
                      "mark": {"type": "rule", "strokeWidth": 1.5},
                      "encoding": {
                        "x": {"field": "start", "type": "quantitative", "scale": {"domain": [-0.56, 4.56]}, "axis": null},
                        "x2": {"field": "end"},
                        "y": {"field": "level", "type": "quantitative", "scale": {"domain": [-2.35, 4.5], "reverse": true}, "axis": null}
                      }
                    },
                    {
                      "transform": [{"fold": ["start", "end"], "as": ["side", "pos"]}],
                      "mark": {"type": "rule", "strokeWidth": 1.5, "y2Offset": -7},
                      "encoding": {
                        "x": {"field": "pos", "type": "quantitative", "scale": {"domain": [-0.56, 4.56]}, "axis": null},
                        "y": {"field": "level", "type": "quantitative", "scale": {"domain": [-2.35, 4.5], "reverse": true}, "axis": null},
                        "y2": {"field": "level"}
                      }
                    },
                    {
                      "mark": {"type": "text", "fontSize": 13.5, "fontWeight": "bold", "baseline": "middle", "dy": 10},
                      "encoding": {
                        "x": {"field": "mid", "type": "quantitative", "scale": {"domain": [-0.56, 4.56]}, "axis": null},
                        "y": {"field": "level", "type": "quantitative", "scale": {"domain": [-2.35, 4.5], "reverse": true}, "axis": null},
                        "text": {"field": "p", "type": "nominal"}
                      }
                    }
                  ]
                }
              ]
            }
          ]
        },
        {
          "bounds": "flush",
          "spacing": 0,
          "vconcat": [
            {
              "title": {"text": "Serum TNF-α levels"},
              "width": 376,
              "height": 368,
              "layer": [
                {
                  "data": {"name": "limits"},
                  "transform": [{"filter": "datum.panel == 'TNF'"}],
                  "mark": {"type": "rule", "strokeWidth": 1.3},
                  "encoding": {
                    "y": {"field": "value", "type": "quantitative", "scale": {"domain": [0, 20]}, "title": null},
                    "strokeDash": {"field": "kind", "type": "nominal", "scale": {"domain": ["upper", "detection"], "range": [[9, 16], [1, 0]]}, "legend": null}
                  }
                },
                {
                  "data": {"name": "medians"},
                  "transform": [{"filter": "datum.panel == 'TNF'"}],
                  "mark": {"type": "tick", "size": 56, "thickness": 2.5, "opacity": 1},
                  "encoding": {
                    "x": {"field": "group", "type": "nominal", "scale": {"domain": ["0","2","4","6","Control"], "paddingInner": 0, "paddingOuter": 0.06}, "title": null},
                    "y": {"field": "value", "type": "quantitative", "scale": {"domain": [0, 20]}, "title": null}
                  }
                },
                {
                  "data": {"name": "tnf"},
                  "mark": {"type": "circle", "opacity": 1},
                  "encoding": {
                    "x": {"field": "group", "type": "nominal", "scale": {"domain": ["0","2","4","6","Control"], "paddingInner": 0, "paddingOuter": 0.06}, "axis": {"title": null, "labelAngle": 0, "labelAlign": "center", "labelFontSize": 22, "labelPadding": 18, "labelFlush": false, "labelOverlap": false, "tickSize": 5, "domain": false}},
                    "xOffset": {"field": "col", "type": "quantitative", "scale": {"domain": [0, 1], "range": [36.72, 43.22]}},
                    "y": {"field": "value", "type": "quantitative", "scale": {"domain": [0, 20]}, "axis": {"title": null, "values": [0, 5, 10, 15, 20], "labelExpr": "datum.value == 20 ? ['20', '(pg/ml)'] : datum.label", "labelBaseline": {"condition": {"test": "datum.value == 20", "value": "top"}, "value": "middle"}, "labelOffset": {"condition": {"test": "datum.value == 20", "value": -4}, "value": 0}, "labelLineHeight": 17, "labelFontSize": 16, "labelPadding": 3, "tickSize": 5, "domain": false, "labelFlush": false, "labelOverlap": false}},
                    "size": {"field": "detected", "type": "nominal", "scale": {"domain": ["yes", "no"], "range": [42, 11]}, "legend": null}
                  }
                }
              ]
            },
            {
              "width": 376,
              "height": 69,
              "view": {"stroke": null},
              "layer": [
                {
                  "data": {"values": [{}]},
                  "mark": {"type": "rule", "strokeWidth": 2.5},
                  "encoding": {
                    "x": {"datum": -0.07, "type": "quantitative", "scale": {"domain": [-0.56, 4.56]}, "axis": null},
                    "x2": {"datum": 3.07},
                    "y": {"datum": -1.04, "type": "quantitative", "scale": {"domain": [-2.5, 0.5], "reverse": true}, "axis": null}
                  }
                },
                {
                  "data": {"values": [{}]},
                  "mark": {"type": "text", "text": "SSc", "fontSize": 22, "fontWeight": "bold", "baseline": "middle"},
                  "encoding": {
                    "x": {"datum": 1.5, "type": "quantitative", "scale": {"domain": [-0.56, 4.56]}, "axis": null},
                    "y": {"datum": -0.27, "type": "quantitative", "scale": {"domain": [-2.5, 0.5], "reverse": true}, "axis": null}
                  }
                },
                {
                  "data": {"values": [{}]},
                  "mark": {"type": "text", "text": ["Time after", "first visit", "(year)"], "fontSize": 17, "fontWeight": "bold", "baseline": "top", "lineHeight": 18.5},
                  "encoding": {
                    "x": {"datum": -0.81, "type": "quantitative", "scale": {"domain": [-0.56, 4.56]}, "axis": null},
                    "y": {"datum": -1.81, "type": "quantitative", "scale": {"domain": [-2.5, 0.5], "reverse": true}, "axis": null}
                  }
                }
              ]
            }
          ]
        }
      ]
    }
  ]
}
